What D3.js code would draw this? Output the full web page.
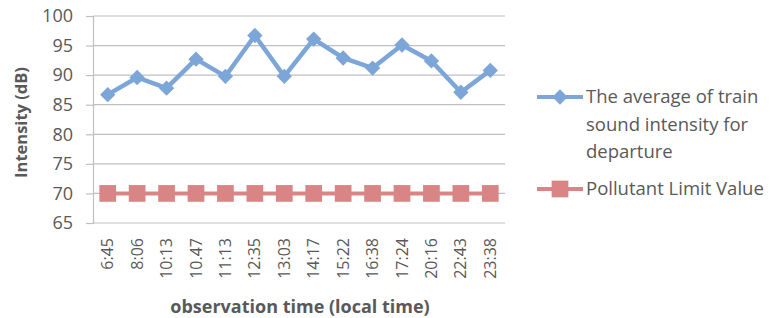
<!DOCTYPE html>
<html>
<head>
<meta charset="utf-8">
<script src="https://cdn.jsdelivr.net/npm/d3@7"></script>
<style>
  body { margin: 0; background: #fff; }
  text { font-family: "Open Sans", "Liberation Sans", sans-serif; }
</style>
</head>
<body>
<svg id="chart"></svg>
<script>
const times = ["6:45", "8:06", "10:13", "10.47", "11:13", "12:35", "13:03", "14:17",
               "15:22", "16:38", "17:24", "20:16", "22:43", "23:38"];
const avgIntensity = [86.7, 89.6, 87.8, 92.7, 89.8, 96.7, 89.8, 96.1, 92.9, 91.2, 95.1, 92.4, 87.1, 90.8];
const limitValue = [70, 70, 70, 70, 70, 70, 70, 70, 70, 70, 70, 70, 70, 70];
const yTicks = [65, 70, 75, 80, 85, 90, 95, 100];

const width = 770, height = 318;
const plotLeft = 93, plotRight = 505, plotTop = 16, plotBottom = 223;

const svg = d3.select("#chart")
    .attr("width", width)
    .attr("height", height);

const x = d3.scaleBand()
    .domain(times)
    .range([plotLeft, plotRight]);

const y = d3.scaleLinear()
    .domain([65, 100])
    .range([plotBottom, plotTop]);

// gridlines
svg.append("g")
    .selectAll("line")
    .data(yTicks)
    .join("line")
    .attr("x1", plotLeft)
    .attr("x2", plotRight)
    .attr("y1", d => y(d))
    .attr("y2", d => y(d))
    .attr("stroke", "#bfbfbf")
    .attr("stroke-width", 1.2);

// y axis
const yAxis = svg.append("g")
    .attr("transform", `translate(${plotLeft},0)`)
    .call(d3.axisLeft(y).tickValues(yTicks).tickSize(7).tickPadding(13));
yAxis.select(".domain").attr("stroke", "#bfbfbf").attr("stroke-width", 1.2);
yAxis.selectAll(".tick line").attr("stroke", "#bfbfbf").attr("stroke-width", 1.2);
yAxis.selectAll(".tick text")
    .attr("fill", "#595959")
    .style("font-size", "18px");

// x axis labels (rotated)
const xAxis = svg.append("g")
    .attr("transform", `translate(0,${plotBottom})`)
    .call(d3.axisBottom(x).tickSize(0).tickPadding(0));
xAxis.select(".domain").remove();
xAxis.selectAll(".tick text")
    .attr("fill", "#595959")
    .style("font-size", "16px")
    .attr("text-anchor", "end")
    .attr("y", 0)
    .attr("dy", "0.35em")
    .attr("transform", "translate(0,15) rotate(-90)");

// axis titles
svg.append("text")
    .attr("x", 300)
    .attr("y", 313)
    .attr("text-anchor", "middle")
    .attr("fill", "#595959")
    .style("font-size", "18px")
    .style("font-weight", "bold")
    .text("observation time (local time)");

svg.append("text")
    .attr("transform", `translate(27,${(plotTop + plotBottom) / 2 + 3}) rotate(-90)`)
    .attr("text-anchor", "middle")
    .attr("fill", "#595959")
    .style("font-size", "16.5px")
    .style("font-weight", "bold")
    .text("Intensity (dB)");

const blue = "#7da6d8";
const red = "#d98586";

const line = d3.line()
    .x((d, i) => x(times[i]) + x.bandwidth() / 2)
    .y(d => y(d));

const diamond = d3.symbol().type(d3.symbolDiamond2).size(150);
const square = d3.symbol().type(d3.symbolSquare).size(280);

// limit series
svg.append("path")
    .datum(limitValue)
    .attr("d", line)
    .attr("fill", "none")
    .attr("stroke", red)
    .attr("stroke-width", 4);
svg.append("g")
    .selectAll("path")
    .data(limitValue)
    .join("path")
    .attr("d", square)
    .attr("transform", (d, i) => `translate(${x(times[i]) + x.bandwidth() / 2},${y(d)})`)
    .attr("fill", red);

// average series
svg.append("path")
    .datum(avgIntensity)
    .attr("d", line)
    .attr("fill", "none")
    .attr("stroke", blue)
    .attr("stroke-width", 4.5);
svg.append("g")
    .selectAll("path")
    .data(avgIntensity)
    .join("path")
    .attr("d", diamond)
    .attr("transform", (d, i) => `translate(${x(times[i]) + x.bandwidth() / 2},${y(d)})`)
    .attr("fill", blue);

// legend
const legend = svg.append("g");
const items = [
    { color: blue, sym: diamond, y: 97, lines: ["The average of train", "sound intensity for", "departure"] },
    { color: red, sym: square, y: 189, lines: ["Pollutant Limit Value"] }
];
items.forEach(it => {
    legend.append("line")
        .attr("x1", 537).attr("x2", 583)
        .attr("y1", it.y).attr("y2", it.y)
        .attr("stroke", it.color)
        .attr("stroke-width", 4);
    legend.append("path")
        .attr("d", it.sym)
        .attr("transform", `translate(560,${it.y})`)
        .attr("fill", it.color);
    it.lines.forEach((t, j) => {
        legend.append("text")
            .attr("x", 586)
            .attr("y", it.y + j * 27.5)
            .attr("dy", "0.35em")
            .attr("fill", "#595959")
            .style("font-size", "18.5px")
            .text(t);
    });
});
</script>
</body>
</html>
